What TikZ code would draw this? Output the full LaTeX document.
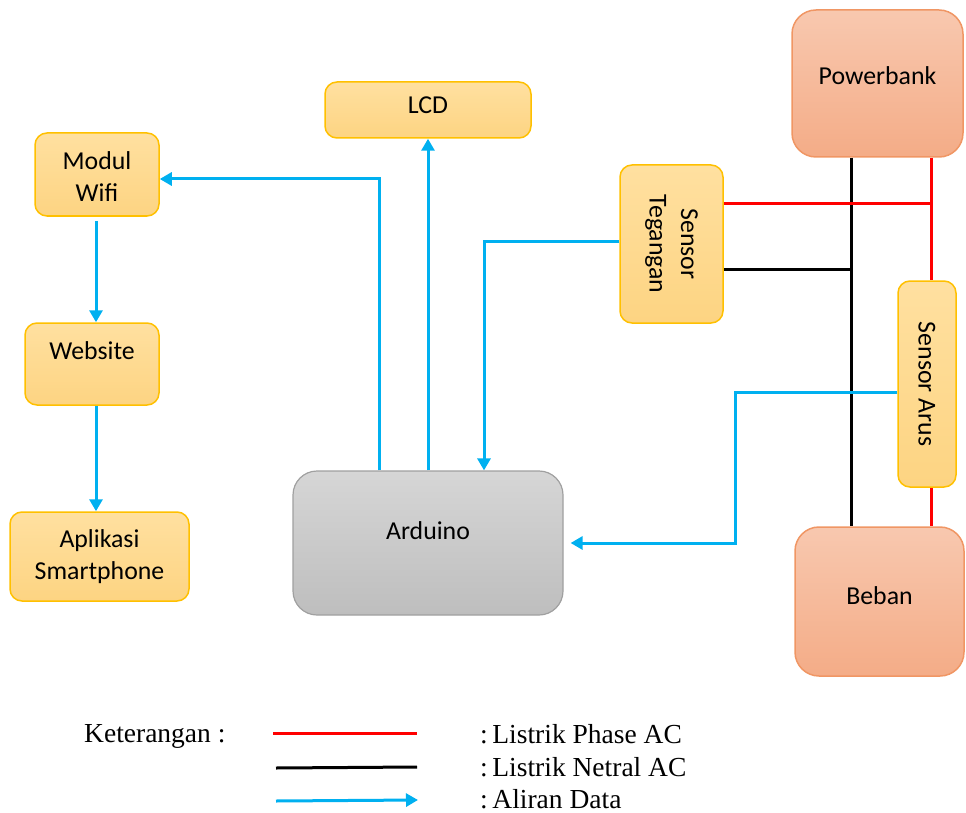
\documentclass[tikz,border=0pt]{standalone}
\usepackage{fontspec}
\setmainfont{Liberation Serif}
\newfontfamily\boxfont{Carlito}
\usetikzlibrary{arrows.meta}
\definecolor{yfillt}{RGB}{255,224,160}
\definecolor{yfillb}{RGB}{253,212,130}
\definecolor{yline}{RGB}{255,192,0}
\definecolor{gfillt}{RGB}{214,214,214}
\definecolor{gfillb}{RGB}{190,190,190}
\definecolor{gline}{RGB}{160,160,160}
\definecolor{sfillt}{RGB}{248,200,175}
\definecolor{sfillb}{RGB}{244,172,135}
\definecolor{sline}{RGB}{240,150,100}
\definecolor{datablue}{RGB}{0,176,240}
\definecolor{phasered}{RGB}{255,0,0}
\tikzset{
  ybox/.style={draw=yline, line width=1.5pt, top color=yfillt, bottom color=yfillb, rounded corners=12pt, inner sep=0pt, font=\boxfont\fontsize{25.8}{31.5}\selectfont, align=center},
  gbox/.style={draw=gline, line width=1.2pt, top color=gfillt, bottom color=gfillb, rounded corners=24pt, inner sep=0pt, font=\boxfont\fontsize{25.8}{31.5}\selectfont, align=center},
  sbox/.style={draw=sline, line width=1.5pt, top color=sfillt, bottom color=sfillb, rounded corners=24pt, inner sep=0pt, font=\boxfont\fontsize{25.8}{31.5}\selectfont, align=center},
  lbl/.style={font=\boxfont\fontsize{25.8}{31.5}\selectfont, align=center, inner sep=0pt},
  phase/.style={draw=phasered, line width=3pt},
  neutral/.style={draw=black, line width=3pt},
  data/.style={draw=datablue, line width=3pt, -{Triangle[width=13pt,length=12pt]}},
  legtext/.style={font=\fontsize{27.5}{33}\selectfont, inner sep=0pt, anchor=west}
}
\begin{document}
\begin{tikzpicture}[x=1pt,y=-1pt]
\useasboundingbox (0,0) rectangle (966,813);
% boxes
\node[sbox, minimum width=171pt, minimum height=147pt, label={[lbl,yshift=8pt]center:Powerbank}] (pb) at (877.5,83.5) {};
\node[sbox, minimum width=169pt, minimum height=149pt, label={[lbl,yshift=6pt]center:Beban}] (beban) at (879.5,601.5) {};
\node[ybox, minimum width=206pt, minimum height=56pt, label={[lbl,yshift=5pt]center:LCD}] (lcd) at (428,110) {};
\node[ybox, minimum width=124pt, minimum height=83pt, label={[lbl,yshift=-2pt]center:Modul\\Wifi}] (wifi) at (97,174.5) {};
\node[ybox, minimum width=134pt, minimum height=82pt, label={[lbl,yshift=13pt]center:Website}] (web) at (92,364) {};
\node[ybox, minimum width=179pt, minimum height=89pt, label={[lbl]center:Aplikasi\\Smartphone}] (app) at (99.5,556.5) {};
\node[gbox, minimum width=270pt, minimum height=144pt, label={[lbl,yshift=12pt]center:Arduino}] (ard) at (428,543) {};
\node[ybox, minimum width=103pt, minimum height=158pt, label={[lbl,rotate=-90]center:Sensor\\Tegangan}] (st) at (671.5,244) {};
\node[ybox, minimum width=58pt, minimum height=206pt, label={[lbl,rotate=-90]center:Sensor Arus}] (sa) at (927,384) {};
% helper coordinates
\coordinate (nx) at (851,300);
\coordinate (rx) at (931,300);
\coordinate (ka) at (735,470);
\coordinate (wx) at (96,300);
% power lines
\draw[neutral] (pb.south -| nx) -- (beban.north -| nx);
\draw[neutral] ([yshift=-25pt]st.east) -- ([yshift=-25pt]st.east -| nx);
\draw[phase] (pb.south -| rx) -- (sa.north -| rx);
\draw[phase] ([yshift=40pt]st.east) -- ([yshift=40pt]st.east -| rx);
\draw[phase] (sa.south -| rx) -- (beban.north -| rx);
% data lines
\draw[data, shorten >=7pt] ([yshift=-8pt]sa.west) -| (ka) |- (ard.east);
\draw[data] ([yshift=3pt]st.west) -| ([xshift=56pt]ard.north);
\draw[data] (ard.north) -- (lcd.south);
\draw[data] ([xshift=-49pt]ard.north) |- ([yshift=-4.5pt]wifi.east);
\draw[data, shorten <=4pt] (wifi.south -| wx) -- (web.north -| wx);
\draw[data] (web.south -| wx) -- (app.north -| wx);
% legend
\node[legtext] (ket) at (84,736) {Keterangan :};
\coordinate (l1a) at (273,733); \coordinate (l1b) at (417,733);
\coordinate (l2a) at (276,768); \coordinate (l2b) at (417,767);
\coordinate (l3a) at (276,801); \coordinate (l3b) at (418,800);
\draw[phase] (l1a) -- (l1b);
\draw[neutral] (l2a) -- (l2b);
\draw[data] (l3a) -- (l3b);
\node[legtext] (t1) at (480,734) {:\,Listrik Phase AC};
\node[legtext] (t2) at (480,767) {:\,Listrik Netral AC};
\node[legtext] (t3) at (480,799) {:\,Aliran Data};
\end{tikzpicture}
\end{document}
